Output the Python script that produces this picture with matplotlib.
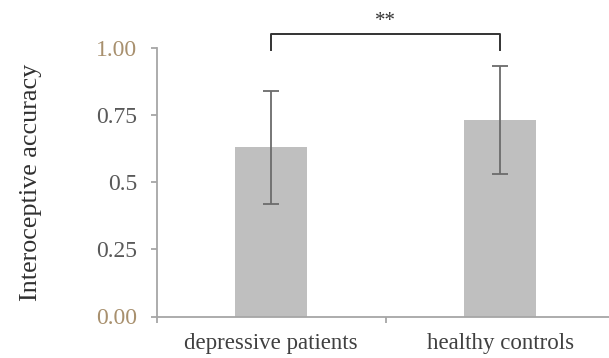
import matplotlib
matplotlib.use("Agg")
import matplotlib.pyplot as plt

# datos
grupos = ["depressive patients", "healthy controls"]
medias = [0.63, 0.73]
desviaciones = [0.21, 0.20]
marcas_y = [0.0, 0.25, 0.5, 0.75, 1.0]
etiquetas_y = ["0.00", "0.25", "0.5", "0.75", "1.00"]
significancia = "**"

plt.rcParams["font.family"] = ["Liberation Serif", "DejaVu Serif"]

fig = plt.figure(figsize=(6.09, 3.58), dpi=100)
ax = fig.add_axes([156.5 / 609, 41.5 / 358, (615 - 156.5) / 609, 269 / 358])

x = list(range(len(grupos)))
ax.bar(x, medias, width=0.314, color="#bfbfbf", zorder=2)
ax.errorbar(x, medias, yerr=desviaciones, fmt="none", ecolor="#6b6b6b",
            elinewidth=1.3, capsize=6, capthick=1.3, zorder=3)

ax.set_xlim(-0.5, 1.5)
ax.set_ylim(0, 1)

for lado in ["top", "right"]:
    ax.spines[lado].set_visible(False)
for lado in ["left", "bottom"]:
    ax.spines[lado].set_color("#a6a6a6")
    ax.spines[lado].set_linewidth(1.3)

ax.set_xticks([-0.5, 0.5, 1.5])
ax.set_xticklabels([])
ax.set_xticks(x, minor=True)
ax.set_xticklabels(grupos, minor=True, fontsize=16.5, color="#404040")
ax.tick_params(axis="x", which="major", length=4, width=1.3, color="#a6a6a6")
ax.tick_params(axis="x", which="minor", length=0, pad=12)

ax.set_yticks(marcas_y)
ax.set_yticklabels(etiquetas_y, fontsize=17)
ax.tick_params(axis="y", length=4, width=1.3, color="#a6a6a6", pad=10)
for etiqueta in ax.get_yticklabels():
    if etiqueta.get_text() in ("0.00", "1.00"):
        etiqueta.set_color("#a8906e")
    else:
        etiqueta.set_color("#595959")

ax.set_ylabel("Interoceptive accuracy", fontsize=18.8, color="#303030")
ax.yaxis.set_label_coords(-0.25, 0.5)

# corchete de significancia
y_pata, y_tope = 0.99, 1.049
ax.plot([x[0], x[0], x[1], x[1]], [y_pata, y_tope, y_tope, y_pata],
        color="#333333", linewidth=1.4, clip_on=False, solid_joinstyle="round")
ax.text((x[0] + x[1]) / 2, 1.095, significancia, ha="center", va="center",
        fontsize=15, color="#333333")

fig.savefig("out.png", dpi=100)
